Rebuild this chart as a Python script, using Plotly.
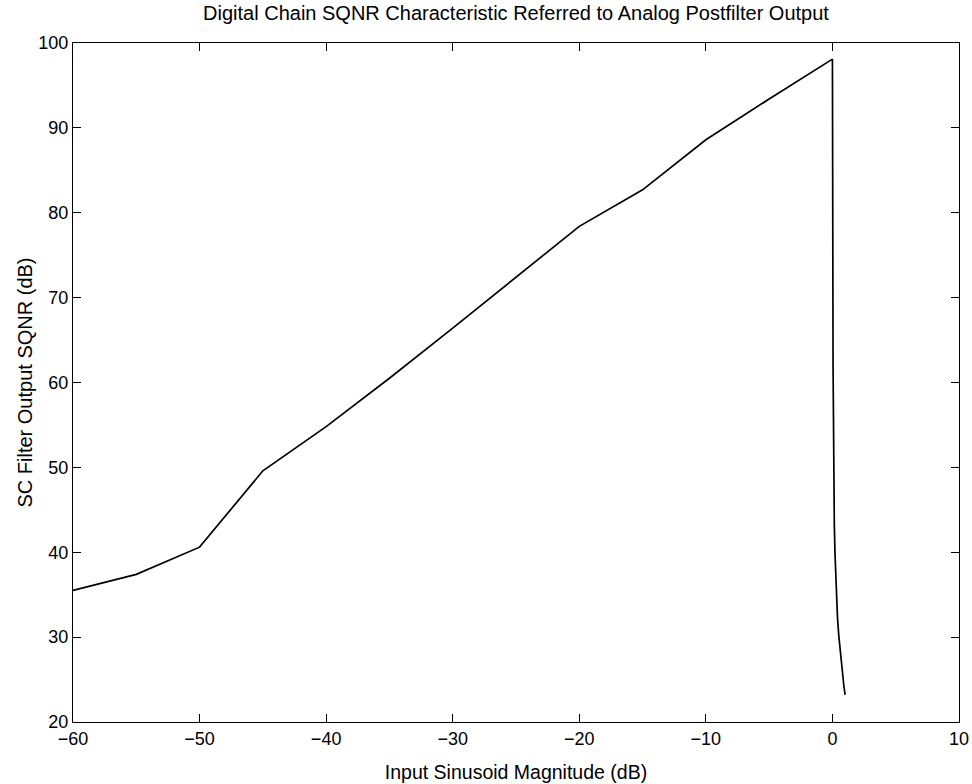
import plotly.graph_objects as go

x_main = [-60, -55, -50, -45, -40, -35, -30, -25, -20, -15, -10, -5, 0]
y_main = [35.5, 37.4, 40.6, 49.6, 54.8, 60.5, 66.4, 72.4, 78.4, 82.7, 88.6, 93.4, 98.1]

x_tail = [0.05, 0.1, 0.15, 0.2, 0.3, 0.4, 0.5, 0.6, 0.7, 0.8, 0.9, 1.0]
y_tail = [62.0, 46.0, 43.2, 40.0, 35.0, 32.3, 30.2, 28.5, 27.0, 25.6, 24.3, 23.2]

x_vals = x_main + x_tail
y_vals = y_main + y_tail

x_ticks = [-60, -50, -40, -30, -20, -10, 0, 10]
y_ticks = [20, 30, 40, 50, 60, 70, 80, 90, 100]

font_family = "Liberation Sans, Arial, sans-serif"

fig = go.Figure()
fig.add_trace(go.Scatter(x=x_vals, y=y_vals, mode="lines",
                         line=dict(color="black", width=1.7), showlegend=False))

axis_common = dict(showgrid=False, zeroline=False, showline=True, linecolor="black",
                   linewidth=1.3, mirror="ticks", ticks="inside", ticklen=8,
                   tickwidth=1.2, tickcolor="black", automargin=False,
                   tickfont=dict(family=font_family, size=18, color="black"))

fig.update_xaxes(range=[-60, 10], tickvals=x_ticks,
                 title=dict(text="Input Sinusoid Magnitude (dB)",
                            font=dict(family=font_family, size=19.5, color="black"),
                            standoff=17),
                 **axis_common)
fig.update_yaxes(range=[20, 100], tickvals=y_ticks,
                 title=dict(text="SC Filter Output SQNR (dB)",
                            font=dict(family=font_family, size=20, color="black"),
                            standoff=0),
                 **axis_common)

fig.update_layout(
    width=972, height=784,
    margin=dict(l=73, r=13, t=43, b=62),
    paper_bgcolor="white", plot_bgcolor="white",
    title=dict(text="Digital Chain SQNR Characteristic Referred to Analog Postfilter Output",
               font=dict(family=font_family, size=20, color="black"),
               x=0.5, xref="paper", xanchor="center",
               y=1 - 13 / 784, yref="container", yanchor="middle"),
)

fig.write_html("out.html", config={"displayModeBar": False},
               post_script="document.body.style.margin='0';")
